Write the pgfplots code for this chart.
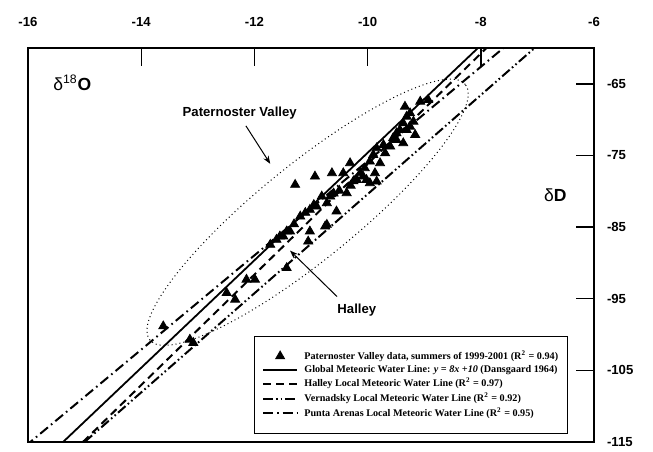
\documentclass[border=0pt]{standalone}
\usepackage{fontspec}
\setmainfont{Liberation Serif}
\newfontfamily\arial{Liberation Sans}
\usepackage{pgfplots}
\usepackage{pgfplotstable}
\pgfplotsset{compat=1.18}
\usetikzlibrary{arrows.meta}

\pgfplotstableread{
x y
-13.61 -98.84
-13.14 -100.70
-13.08 -101.16
-12.49 -94.19
-12.34 -95.12
-12.14 -92.33
-11.99 -92.33
-11.43 -90.71
-11.72 -87.46
-11.61 -86.76
-11.55 -86.30
-11.49 -86.30
-11.43 -85.60
-11.37 -85.60
-11.30 -84.60
-11.19 -83.51
-11.10 -83.00
-11.02 -82.58
-10.95 -81.90
-10.90 -82.12
-10.81 -80.72
-10.72 -81.65
-10.66 -80.72
-10.60 -80.30
-10.50 -79.90
-10.55 -82.81
-10.37 -80.25
-10.30 -79.20
-10.25 -78.60
-10.19 -78.40
-10.08 -77.93
-10.02 -78.40
-9.96 -78.86
-9.87 -77.47
-9.84 -78.63
-9.78 -76.07
-9.69 -74.68
-9.60 -73.75
-9.49 -72.82
-9.31 -71.43
-9.25 -70.97
-10.13 -77.47
-10.05 -76.77
-9.96 -75.84
-9.90 -74.91
-9.84 -73.98
-9.72 -73.52
-9.55 -72.59
-9.49 -71.89
-9.43 -71.43
-9.37 -70.50
-9.31 -69.57
-9.34 -68.18
-9.25 -69.10
-9.19 -70.27
-9.16 -72.12
-9.37 -73.28
-9.07 -67.48
-8.93 -67.25
-11.28 -79.09
-10.93 -77.93
-10.63 -77.47
-10.43 -77.47
-10.31 -76.07
-11.02 -85.60
-11.05 -87.00
-10.75 -84.90
-10.72 -84.67
}\pvdata

\begin{document}
\begin{tikzpicture}
\begin{axis}[
  scale only axis, width=283bp, height=197bp,
  xmin=-16, xmax=-6, ymin=-115, ymax=-60,
  xtick={-16,-14,...,-6}, ytick={-115,-105,...,-65},
  xtick pos=right, ytick pos=right,
  xticklabel pos=right, yticklabel pos=right,
  tick align=inside, major tick length=9bp,
  every tick/.style={black, line width=0.7bp},
  axis line style={line width=0.7bp},
  /pgf/number format/assume math mode=true,
  ticklabel style={font=\arial\bfseries\fontsize{6.6}{8}\selectfont},
  xticklabel style={yshift=7bp},
  yticklabel style={xshift=3bp},
  legend style={draw=black, line width=0.6bp, fill=white, at={(0.954,0.02)}, anchor=south east,
    font=\bfseries\fontsize{5.1}{6}\selectfont, inner xsep=4bp, inner ysep=6.5bp,
    row sep=0.3bp, nodes={inner sep=0.6bp},
    /tikz/every odd column/.append style={column sep=2.5bp}},
  legend cell align=left,
]
\addplot[only marks, mark=triangle*, mark size=2.6bp, black, line width=0.4pt] table {\pvdata};
\addlegendentry{Paternoster Valley data, summers of 1999-2001 (R\textsuperscript{2} = 0.94)}
\addplot[black, line width=0.9bp] coordinates {(-15.38,-115) (-8.05,-60)};
\addlegendentry{Global Meteoric Water Line: \textit{y = 8x +10} (Dansgaard 1964)}
\addplot[black, line width=1bp, dash pattern=on 4bp off 2.5bp] coordinates {(-15.03,-115) (-7.9,-60)};
\addlegendentry{Halley Local Meteoric Water Line (R\textsuperscript{2} = 0.97)}
\addplot[black, line width=1bp, dash pattern=on 5bp off 1.5bp on 0.8bp off 1.5bp on 0.8bp off 1.5bp] coordinates {(-15.0,-115) (-7.05,-60)};
\addlegendentry{Vernadsky Local Meteoric Water Line (R\textsuperscript{2} = 0.92)}
\addplot[black, line width=1bp, dash pattern=on 5bp off 2bp on 0.8bp off 2bp] coordinates {(-16.05,-115.6) (-7.6,-60)};
\addlegendentry{Punta Arenas Local Meteoric Water Line (R\textsuperscript{2} = 0.95)}

\draw[line width=0.5bp, dash pattern=on 0.5bp off 1.5bp, rotate around={39:(axis cs:-11.06,-82.93)}] (axis cs:-11.06,-82.93) ellipse [x radius=101.5bp, y radius=24bp];

\node[font=\arial\bfseries\fontsize{6.6}{8}\selectfont, inner sep=0pt] at (axis cs:-12.26,-69.06) {Paternoster Valley};
\draw[-{Stealth[length=4bp,width=3bp]}, line width=0.5bp] (axis cs:-12.15,-70.87) -- (axis cs:-11.72,-76.17);
\node[font=\arial\bfseries\fontsize{6.6}{8}\selectfont, inner sep=0pt] at (axis cs:-10.19,-96.52) {Halley};
\draw[-{Stealth[length=4bp,width=3bp]}, line width=0.5bp] (axis cs:-10.54,-94.70) -- (axis cs:-11.37,-88.29);
\node[anchor=west, inner sep=0pt, font=\arial\fontsize{8.8}{10}\selectfont] at (axis cs:-15.56,-64.88) {δ\textsuperscript{18}\textbf{O}};
\node[anchor=east, inner sep=0pt, font=\arial\fontsize{8.8}{10}\selectfont] at (axis cs:-6.48,-80.49) {δ\textbf{D}};

\path (rel axis cs:0,0) coordinate (sw) (rel axis cs:1,1) coordinate (ne);
\end{axis}
\pgfresetboundingbox
\path ([xshift=-14bp,yshift=-5bp]sw) rectangle ([xshift=29.5bp,yshift=24bp]ne);
\end{tikzpicture}
\end{document}
